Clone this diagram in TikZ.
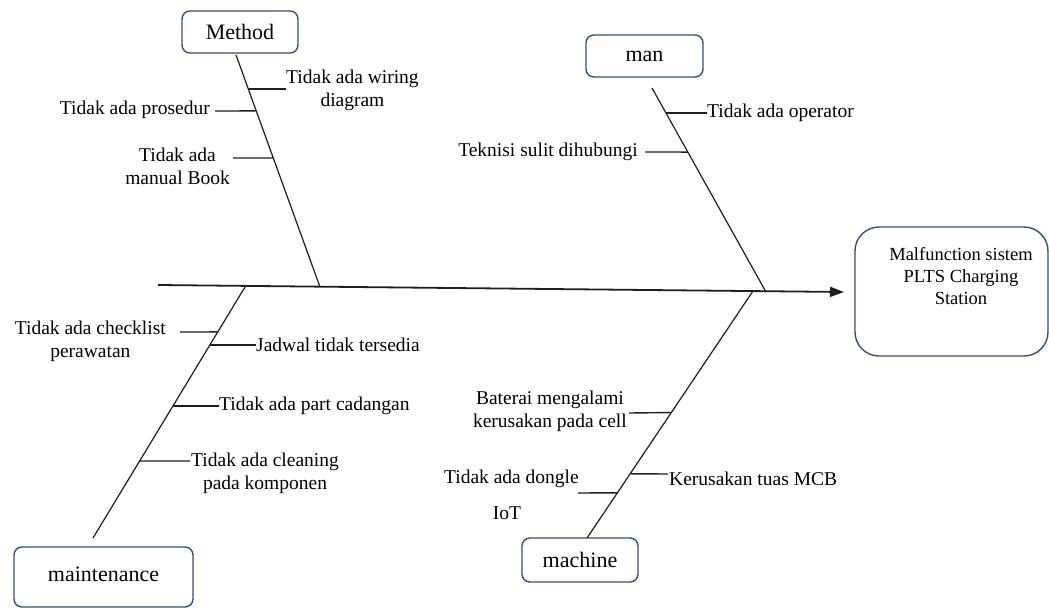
\documentclass[tikz,border=0pt]{standalone}
\usepackage{fontspec}
\setmainfont{LiberationSerif}[Extension=.ttf,UprightFont=*-Regular,BoldFont=*-Bold,ItalicFont=*-Italic,BoldItalicFont=*-BoldItalic]
\usetikzlibrary{arrows.meta,calc}
\definecolor{boxblue}{RGB}{52,78,125}
\definecolor{ink}{RGB}{30,30,30}
\begin{document}
\begin{tikzpicture}[x=1pt,y=-1pt,
  catbox/.style={draw=boxblue,line width=1.4pt,rounded corners=8pt,minimum width=116pt,minimum height=42pt,inner sep=0pt,font=\fontsize{22}{25}\selectfont},
  effbox/.style={draw=boxblue,line width=1.4pt,rounded corners=24pt,minimum width=193pt,minimum height=129pt,inner sep=0pt},
  bone/.style={draw=ink,line width=1.2pt},
  sub/.style={draw=ink,line width=1.4pt},
  cause/.style={inner sep=0pt,align=center,font=\fontsize{19.5}{23}\selectfont},
  spine/.style={draw=ink,line width=1.8pt,-{Triangle[length=14pt,width=10pt]}}]
\useasboundingbox (0,0) rectangle (1049,608);

% category boxes
\node[catbox] (method) at (240,32) {Method};
\node[catbox,minimum width=117pt] (man) at (644.5,56) {man};
\node[catbox,minimum width=179pt,minimum height=60pt] (maint) at (103.5,577) {\raisebox{6pt}{maintenance}};
\node[catbox,minimum height=44pt] (machine) at (580,560) {machine};
\node[effbox] (effect) at (951.5,291.5) {};
\node[cause,font=\fontsize{18.5}{22}\selectfont] (efftext) at (961,276) {Malfunction sistem\\PLTS Charging\\Station};

% spine
\coordinate (sp0) at (158,285);
\coordinate (sp1) at (844,292);
\draw[spine] (sp0) -- (sp1);

% bones
\coordinate (mA) at (236,55);  \coordinate (mB) at (320,287);
\coordinate (nA) at (652,88);  \coordinate (nB) at (766,292);
\coordinate (tA) at (245,287); \coordinate (tB) at (93,538);
\coordinate (cA) at (753,291); \coordinate (cB) at (587,538);
\draw[bone] (mA) -- (mB);
\draw[bone] (nA) -- (nB);
\draw[bone] (tA) -- (tB);
\draw[bone] (cA) -- (cB);

% Method causes
\coordinate (m1) at ($(mA)!0.147!(mB)$);
\coordinate (m2) at ($(mA)!0.241!(mB)$);
\coordinate (m3) at ($(mA)!0.444!(mB)$);
\node[cause,anchor=west] (wiring) at (286,90) {Tidak ada wiring\\diagram};
\node[cause,anchor=east] (prosedur) at (210,110) {Tidak ada prosedur};
\node[cause,anchor=east] (manual) at (230,166) {Tidak ada\\manual Book};
\draw[sub] (m1) -- (m1 -| wiring.west);
\draw[sub] (215,111) -- (m2);
\draw[sub] (233,158) -- (m3);

% man causes
\coordinate (n1) at ($(nA)!0.123!(nB)$);
\coordinate (n2) at ($(nA)!0.314!(nB)$);
\node[cause,anchor=west] (operator) at (707,113) {Tidak ada operator};
\node[cause,anchor=east] (teknisi) at (638,152) {Teknisi sulit dihubungi};
\draw[sub] (n1) -- (n1 -| operator.west);
\draw[sub] (645,152) -- (n2);

% maintenance causes
\coordinate (t1) at ($(tA)!0.179!(tB)$);
\coordinate (t2) at ($(tA)!0.231!(tB)$);
\coordinate (t3) at ($(tA)!0.474!(tB)$);
\coordinate (t4) at ($(tA)!0.693!(tB)$);
\node[cause,anchor=east] (checklist) at (166,341) {Tidak ada checklist\\perawatan};
\node[cause,anchor=west] (jadwal) at (256,345) {Jadwal tidak tersedia};
\node[cause,anchor=west] (part) at (219,406) {Tidak ada part cadangan};
\node[cause,anchor=west] (cleaning) at (191,473) {Tidak ada cleaning\\pada komponen};
\draw[sub] (180,332) -- (t1);
\draw[sub] (t2) -- (t2 -| jadwal.west);
\draw[sub] (t3) -- (t3 -| part.west);
\draw[sub] (t4) -- (190,461);

% machine causes
\coordinate (c1) at ($(cA)!0.492!(cB)$);
\coordinate (c2) at ($(cA)!0.740!(cB)$);
\coordinate (c3) at ($(cA)!0.817!(cB)$);
\node[cause,anchor=east] (baterai) at (627,411) {Baterai mengalami\\kerusakan pada cell};
\begin{scope}
\clip (660,455) rectangle (900,484);
\node[cause,anchor=west] (mcb) at (669,479) {Kerusakan tuas MCB};
\end{scope}
\node[cause,anchor=east] (dongle) at (579,479) {Tidak ada dongle};
\node[cause] (iot) at (507,513) {IoT};
\draw[sub] (629,413) -- (c1);
\draw[sub] (c2) -- (668,474);
\draw[sub] (578,493) -- (c3);
\end{tikzpicture}
\end{document}
